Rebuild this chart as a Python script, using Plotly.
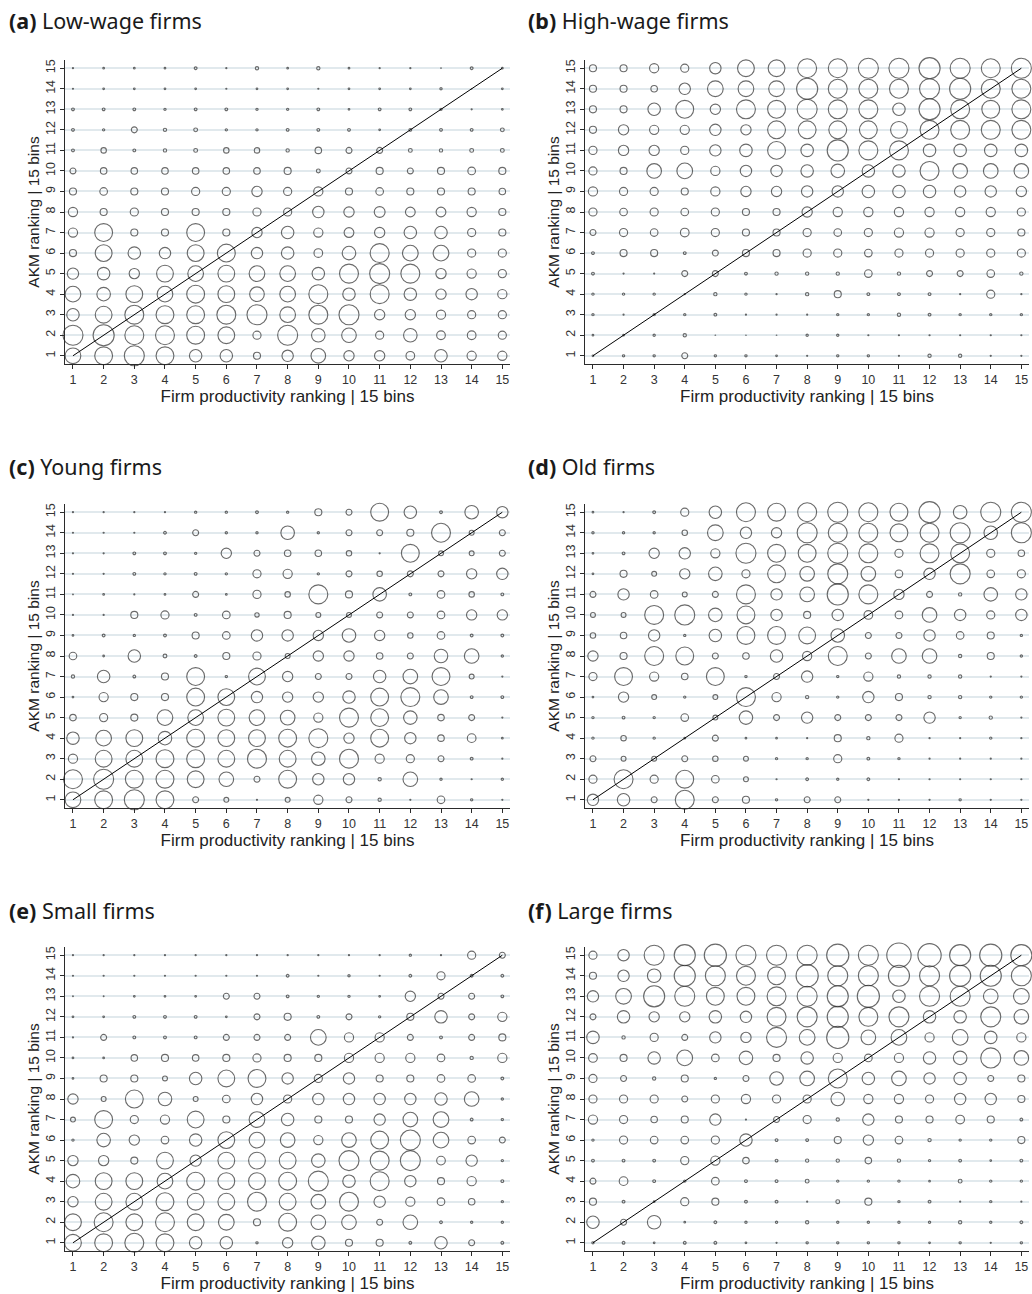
import plotly.graph_objects as go

# ---------------- data (rows: AKM bin 15 at top -> 1 at bottom; columns: productivity bin 1..15)
bins = list(range(1, 16))
tick_labels = [str(b) for b in bins]
akm_rows = list(range(15, 0, -1))

panel_titles = ["Low-wage firms", "High-wage firms", "Young firms", "Old firms", "Small firms", "Large firms"]
panel_letters = ["a", "b", "c", "d", "e", "f"]

low_wage = [
    [1.5, 2, 2, 2, 3, 1.5, 3.5, 2, 3.5, 2, 1.5, 1.5, 1, 3, 2],
    [1.5, 2, 2, 2, 2, 1.5, 2, 2, 1.5, 2, 2, 2, 2.5, 1, 2],
    [3, 3, 3, 2.5, 3, 3, 2.5, 2.5, 3, 2, 3, 3, 2.5, 1.5, 2],
    [3, 2.5, 6, 3.5, 4, 2.5, 2.5, 3, 3, 3, 2, 3, 3, 3, 4],
    [3, 5.5, 3, 3.5, 4, 5.5, 5.5, 3.5, 6.5, 6, 6, 4, 3.5, 4, 4],
    [6, 6.5, 6.5, 6.5, 6.5, 6.5, 6.5, 7, 4, 6, 7, 6, 7, 7.5, 7],
    [7, 7.5, 7, 7, 8, 8, 10, 8, 9, 7, 7.5, 7, 7, 7, 6.5],
    [9, 7, 8, 7, 7, 7, 8, 8, 11, 10, 10.5, 9.5, 9.5, 9, 7],
    [9, 17, 7, 7, 17, 7, 10, 12, 9, 9.5, 10, 12, 12, 8, 7],
    [7, 16, 12, 11, 16, 17, 11, 12, 8.5, 13, 18, 15, 15, 8, 8],
    [11, 12, 10, 16, 15, 16, 15, 15, 12, 18, 19, 18, 10, 9, 8],
    [15, 13, 16, 15, 17, 16, 14, 15, 18, 12, 18, 12, 10, 11, 9],
    [12, 16, 18, 17, 17, 18, 19, 15, 18, 19, 10, 10, 9, 8, 8],
    [19, 20, 18, 18, 17, 16, 8, 19, 13, 14, 8, 13, 8.5, 8.5, 8],
    [15, 17, 19, 17, 12, 12, 7, 11, 14, 10, 10, 8.5, 12, 9, 9],
]

high_wage = [
    [7, 7, 9, 8, 11, 16, 16, 18, 18, 19, 19, 20, 19, 18, 19],
    [7, 7, 6.5, 11, 15, 15, 15, 20, 18, 18, 18, 19, 20, 18, 18],
    [7, 7, 12, 17, 10, 18, 17, 19, 18, 18, 12, 20, 18, 17, 18],
    [7, 10, 9, 9, 11, 10, 17, 17, 17, 17, 16, 18, 18, 18, 18],
    [8, 10, 10, 8, 11, 12, 17, 12, 20, 18, 18, 12, 12, 12, 12],
    [8, 7, 14, 15, 9, 11, 11, 12, 13, 12, 12, 18, 14, 14, 14],
    [9, 8, 8, 7, 9, 10, 10, 11, 11, 12, 12, 12, 11, 11, 10],
    [8, 7.5, 8, 7.5, 8, 7, 7, 10, 9, 9, 9, 9, 9, 9, 8],
    [6, 8, 7.5, 8.5, 8, 7, 7, 8, 7.5, 8, 9, 9, 8, 8, 7],
    [3, 7, 7, 3, 6, 7, 7, 8, 8, 7.5, 8, 8, 8, 8, 8],
    [3, 1.5, 1.5, 6, 6, 3, 3.5, 3.5, 3.5, 7.5, 3.5, 6, 6, 7.5, 3.5],
    [2.5, 2.5, 2.5, 1.5, 3.5, 2.5, 1.5, 3.5, 7, 3, 3, 3, 1.5, 8, 1.5],
    [2.5, 1.5, 2.5, 2.5, 3, 1.5, 1.5, 1.5, 2.5, 2.5, 3.5, 3, 2.5, 2.5, 2.5],
    [2, 2, 2.5, 3.5, 1, 1, 1, 2.5, 2.5, 1.5, 1.5, 1.5, 1.5, 1.5, 1.5],
    [2, 2.5, 2.5, 6, 2.5, 2.5, 2, 1.5, 2.5, 2.5, 1.5, 3.5, 3.5, 1.5, 1.5],
]

young = [
    [1.5, 1.5, 1.5, 1.5, 2.5, 2.5, 3, 2.5, 7, 6, 17, 12, 3, 13, 11],
    [1.5, 1.5, 1.5, 3, 6, 2.5, 2.5, 13, 2.5, 6, 6, 7, 18, 5, 6],
    [1.5, 1.5, 3, 3, 2.5, 10, 6, 6.5, 6.5, 5.5, 1.5, 17, 5, 5, 6],
    [1.5, 1.5, 3, 2.5, 3, 2.5, 8, 9, 2.5, 6, 5.5, 6, 6, 10, 11],
    [1.2, 2, 1.5, 2, 6, 2, 8, 5.5, 18, 7, 13, 3, 7.5, 5.5, 3],
    [1.5, 1.5, 7, 8, 3, 7.5, 4.5, 7, 5, 5, 6, 6, 7.5, 10, 10],
    [2, 3, 2.5, 3, 7, 7.5, 11, 11, 10, 13, 10, 5.5, 7.5, 3, 3],
    [7.5, 2, 12, 4, 3, 7, 8, 5, 10, 10, 6.5, 6, 13, 14, 2.5],
    [3.5, 12, 3, 7, 17, 2.5, 16, 10, 6, 6, 12, 14, 17, 5, 1.5],
    [2, 9, 7, 7, 17, 16, 11, 10, 10, 12, 17, 18, 14, 3, 3],
    [6.5, 8, 7, 15, 15, 16, 15, 14, 9, 18, 17, 13, 6.5, 6, 1.5],
    [12, 15, 16, 13, 17, 16, 16, 17, 18, 10, 17, 11, 6.5, 8.5, 2],
    [9, 16, 16, 17, 17, 16, 18, 16, 13, 18, 9, 8, 6, 3, 1.5],
    [18, 19, 17, 17, 16, 14, 6, 17, 11, 11, 3.5, 14, 2.5, 1.5, 2.5],
    [15, 17, 19, 17, 6, 5, 1.5, 5, 9, 6, 3.5, 1.5, 7.5, 2.5, 1.5],
]

old = [
    [2, 1.5, 3, 8, 12, 18, 17, 18, 19, 18, 17, 20, 13, 19, 19],
    [2.5, 2.5, 2.5, 5.5, 15, 11, 10, 19, 18, 18, 17, 18, 19, 13, 19],
    [2, 3, 10, 11, 9, 19, 17, 17, 19, 18, 8, 18, 18, 8, 6.5],
    [2, 7, 5, 10, 13, 8, 17, 14, 19, 14, 7.5, 11, 19, 7.5, 8],
    [6, 11, 7.5, 5, 6, 18, 11, 14, 20, 18, 10, 6, 3.5, 13, 11],
    [5, 5, 18, 19, 13, 17, 11, 7, 11, 8.5, 7.5, 14, 11, 8, 11],
    [5.5, 6.5, 11, 2.5, 12, 17, 17, 16, 13, 6, 6, 11, 7.5, 7, 2.5],
    [10, 7, 18, 17, 6, 6.5, 12, 9, 18, 6, 14, 14, 3.5, 7, 2.5],
    [8, 17, 9, 6.5, 17, 2.5, 6, 11, 2.5, 9, 3.5, 3.5, 3.5, 1.5, 1.5],
    [2, 10, 5, 2.5, 5, 18, 9, 3.5, 2.5, 11, 7, 3.5, 3.5, 2.5, 2.5],
    [2.5, 3, 2.5, 7.5, 5, 13, 6, 11, 6, 6, 6, 11, 2.5, 3.5, 1.5],
    [2.5, 5.5, 2.5, 2, 6, 2, 2, 1.5, 7, 3.5, 8, 1.5, 1.5, 2.5, 1.5],
    [6, 5, 5, 6, 5.5, 5, 2.5, 2.5, 8, 3, 2.5, 1.5, 1.5, 1.5, 1.5],
    [8, 18, 8, 17, 7.5, 5, 1.5, 3, 2.5, 3, 1.5, 1.5, 1.5, 1.5, 1.5],
    [11, 12, 6, 18, 6, 7, 2.5, 6, 6, 1.5, 1.5, 1.5, 2.5, 1.5, 1.5],
]

small = [
    [1.5, 1.5, 1.5, 1.5, 1.5, 1.5, 1.5, 1.5, 1.5, 1.5, 1.5, 2.5, 1.5, 8, 6],
    [1.5, 1.5, 1.5, 1.5, 1.5, 1.5, 1.5, 3, 1.5, 2.5, 1.5, 3, 8, 3, 3],
    [1.2, 1.2, 2, 2, 2, 6, 6, 3, 2.5, 2.5, 2, 10, 6, 6, 3],
    [2, 2, 3, 3, 3, 2, 6, 7, 3, 6, 2.5, 7, 12, 6, 9],
    [1.5, 6, 3, 3, 3, 6, 6, 6, 15, 9, 9, 6, 3, 6, 7],
    [2, 2, 6.5, 7, 6.5, 7, 8, 7, 7, 9, 9, 9, 7.5, 3.5, 9],
    [2, 7, 7, 5, 12, 16, 17, 11, 8, 11, 7, 7, 7.5, 7.5, 3],
    [10, 5, 17, 13, 5, 7.5, 11, 8, 11, 11, 11, 11, 12, 14, 2.5],
    [5, 17, 8, 9, 16, 7, 15, 12, 7, 7, 11, 14, 15, 3, 2.5],
    [2.5, 13, 10, 7.5, 12, 16, 15, 14, 9, 14, 17, 19, 15, 7.5, 6],
    [10, 10, 7, 16, 11, 16, 16, 16, 13, 19, 18, 19, 8.5, 11, 2.5],
    [13, 16, 16, 15, 17, 16, 16, 17, 19, 12, 18, 11, 7, 9, 3],
    [10, 16, 16, 17, 16, 16, 18, 16, 14, 18, 11, 9, 7.5, 6.5, 2.5],
    [16, 18, 16, 18, 16, 15, 7, 17, 14, 14, 6, 14, 3, 2.5, 2.5],
    [16, 17, 18, 17, 12, 12, 2.5, 10, 13, 7, 7, 3, 12, 6, 3],
]

large = [
    [8, 11, 19, 20, 21, 19, 19, 19, 21, 19, 23, 22, 20, 21, 20],
    [7, 11, 13, 20, 19, 18, 17, 21, 19, 19, 20, 19, 20, 20, 19],
    [11, 15, 20, 19, 17, 17, 18, 19, 20, 21, 12, 19, 19, 14, 15],
    [6, 12, 10, 10, 12, 11, 18, 19, 20, 18, 19, 12, 12, 19, 14],
    [12, 3.5, 8, 6, 11, 10, 19, 15, 21, 14, 15, 9, 15, 12, 9],
    [8.5, 7, 12, 15, 7.5, 13, 7, 12, 9, 7.5, 9, 12, 13, 19, 14],
    [8, 6, 3.5, 7, 2.5, 6, 13, 14, 18, 12, 14, 11, 12, 6, 7],
    [8, 8, 8, 6, 8, 9, 8, 8, 13, 9, 9, 8, 11, 11, 7],
    [9, 8, 6.5, 7, 11, 1.5, 6, 8, 3.5, 11, 7, 7, 8.5, 7, 3],
    [2.5, 8, 7.5, 7.5, 8, 12, 3, 3, 7, 10, 7.5, 3.5, 2.5, 2.5, 7],
    [3, 3, 3, 8, 9, 6.5, 3, 3.5, 3.5, 6.5, 3.5, 2.5, 3, 2, 3],
    [6, 8.5, 3, 2.5, 7.5, 3, 3, 4, 2.5, 2.5, 2.5, 2, 4, 2.5, 2.5],
    [7, 3, 2, 8, 7, 3, 3, 1.5, 4, 7, 2.5, 3, 1.5, 2.5, 1.5],
    [12, 6, 13, 2, 3, 2.5, 2.5, 3.5, 2.5, 2.5, 2.5, 2.5, 3.5, 2.5, 3],
    [2.5, 3, 2, 3, 3, 2, 1.5, 2.5, 2.5, 2.5, 2.5, 2, 2.5, 1.5, 2.5],
]

panels = [low_wage, high_wage, young, old, small, large]
diag = [1, 15]

# ---------------- layout geometry (pixels)
W, H = 1032, 1294
col_px = [(65, 510), (585, 1029)]
row_px = [(60, 364), (504, 808), (947, 1251)]
title_y_px = [20, 466, 910]
title_x_px = [7, 526]
SIZE_SCALE = 1.08

fig = go.Figure()
layout = dict(
    width=W, height=H, margin=dict(l=0, r=0, t=0, b=0),
    paper_bgcolor="white", plot_bgcolor="white", showlegend=False,
    font=dict(family="Liberation Sans, Arial, sans-serif", color="#333"),
)
annotations = []
ink = "#2b2b2b"

for i, data in enumerate(panels):
    r, c = divmod(i, 2)
    n = i + 1
    xa = "x" if n == 1 else f"x{n}"
    ya = "y" if n == 1 else f"y{n}"
    xs, ys, ss = [], [], []
    for ri, row in enumerate(data):
        for ci, v in enumerate(row):
            xs.append(bins[ci])
            ys.append(akm_rows[ri])
            ss.append(v)
    fig.add_trace(go.Scatter(
        x=xs, y=ys, mode="markers", xaxis=xa, yaxis=ya, hoverinfo="skip",
        cliponaxis=False,
        marker=dict(symbol="circle-open", size=[max(s * SIZE_SCALE - 0.5, 0.6) for s in ss],
                    color=ink, line=dict(width=1.1, color=ink)),
    ))
    fig.add_trace(go.Scatter(
        x=diag, y=diag, mode="lines", xaxis=xa, yaxis=ya, hoverinfo="skip",
        cliponaxis=False,
        line=dict(color="black", width=1),
    ))
    x0, x1 = col_px[c]
    y0, y1 = row_px[r]
    axis_common = dict(
        showline=True, linecolor=ink, linewidth=1, ticks="outside", ticklen=4,
        tickcolor=ink, tickwidth=1, tickvals=bins, ticktext=tick_labels,
        tickfont=dict(size=12.5, color="#333"), zeroline=False, automargin=False,
        fixedrange=True,
    )
    layout["xaxis" if n == 1 else f"xaxis{n}"] = dict(
        axis_common, domain=[x0 / W, x1 / W], range=[0.74, 15.25], showgrid=False,
        anchor=ya,
        title=dict(text="Firm productivity ranking | 15 bins", font=dict(size=17, color="#222"), standoff=0),
    )
    layout["yaxis" if n == 1 else f"yaxis{n}"] = dict(
        axis_common, domain=[1 - y1 / H, 1 - y0 / H], range=[0.6, 15.4], showgrid=True,
        gridcolor="#e1e9ed", gridwidth=1.5, tickangle=-90, anchor=xa,
        title=dict(text="AKM ranking | 15 bins", font=dict(size=15.5, color="#222"), standoff=0),
    )
    annotations.append(dict(
        xref="paper", yref="paper", x=title_x_px[c] / W, y=1 - title_y_px[r] / H,
        xanchor="left", yanchor="middle", showarrow=False,
        text=f"<b>({panel_letters[i]})</b> {panel_titles[i]}",
        font=dict(family="Noto Sans, Open Sans, sans-serif", size=21.5, color="#1a1a1a"),
    ))

layout["annotations"] = annotations
fig.update_layout(**layout)
fig.write_html(
    "out.html",
    config={"displayModeBar": False},
    post_script="document.body.style.margin='0';document.body.style.overflow='hidden';",
)
